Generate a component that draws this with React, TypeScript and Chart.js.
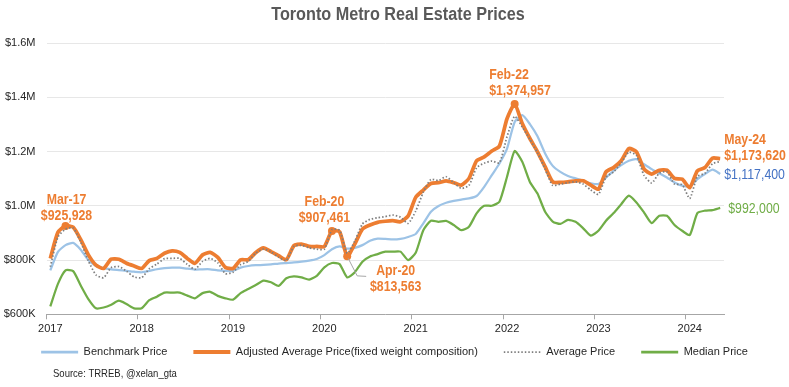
import React, { useEffect, useRef } from 'react';
import { Chart, registerables } from 'chart.js';

Chart.register(...registerables);

const YEARS = ['2017', '2018', '2019', '2020', '2021', '2022', '2023', '2024'];
const MONTHS = ['Jan', 'Feb', 'Mar', 'Apr', 'May', 'Jun', 'Jul', 'Aug', 'Sep', 'Oct', 'Nov', 'Dec'];
const MONTHS_IN_LAST_YEAR = 5;

const categories: string[] = [];
YEARS.forEach((yr, yi) => {
  const n = yi === YEARS.length - 1 ? MONTHS_IN_LAST_YEAR : 12;
  for (let m = 0; m < n; m++) categories.push(MONTHS[m] + '-' + yr.slice(2));
});

const benchmarkPrice = [
  762000, 830000, 855000, 863000, 838000, 800000, 778000, 770000, 766000, 763000, 760000, 757000,
  755000, 760000, 766000, 770000, 772000, 772000, 768000, 765000, 766000, 766000, 762000, 760000,
  760000, 772000, 778000, 781000, 782000, 784000, 787000, 789000, 791000, 794000, 798000, 804000,
  818000, 840000, 850000, 842000, 845000, 855000, 871000, 879000, 878000, 876000, 878000, 885000,
  896000, 935000, 978000, 999000, 1011000, 1018000, 1023000, 1027000, 1036000, 1070000, 1113000, 1156000,
  1211000, 1309000, 1334000, 1301000, 1256000, 1193000, 1147000, 1125000, 1110000, 1101000, 1092000, 1083000,
  1080000, 1104000, 1129000, 1150000, 1166000, 1172000, 1153000, 1135000, 1120000, 1104000, 1086000, 1074000,
  1071000, 1098000, 1117000, 1133000, 1117400,
];

const adjustedAveragePrice = [
  806000, 902000, 925928, 921000, 875000, 819000, 781000, 769000, 803000, 803000, 788000, 778000,
  769000, 798000, 806000, 825000, 834000, 828000, 806000, 788000, 819000, 828000, 810000, 773000,
  769000, 801000, 801000, 828000, 845000, 831000, 816000, 801000, 853000, 859000, 850000, 850000,
  850000, 907461, 904000, 813563, 859000, 914000, 929000, 939000, 943000, 945000, 941000, 962000,
  1031000, 1058000, 1082000, 1085000, 1092000, 1085000, 1076000, 1101000, 1166000, 1180000, 1202000, 1220000,
  1321000, 1374957, 1303000, 1248000, 1199000, 1144000, 1088000, 1086000, 1088000, 1092000, 1092000, 1076000,
  1061000, 1125000, 1141000, 1166000, 1211000, 1199000, 1135000, 1117000, 1131000, 1131000, 1101000, 1098000,
  1067000, 1129000, 1141000, 1176000, 1173620,
];

const averagePrice = [
  775000, 885000, 914000, 918000, 866000, 797000, 745000, 735000, 772000, 776000, 759000, 738000,
  735000, 768000, 785000, 805000, 806000, 806000, 784000, 766000, 795000, 806000, 790000, 750000,
  755000, 783000, 795000, 826000, 840000, 830000, 810000, 798000, 850000, 854000, 845000, 840000,
  840000, 912000, 910000, 825000, 870000, 933000, 950000, 956000, 960000, 966000, 958000, 935000,
  980000, 1050000, 1097000, 1093000, 1107000, 1085000, 1064000, 1075000, 1140000, 1157000, 1165000, 1158000,
  1255000, 1330000, 1290000, 1245000, 1195000, 1135000, 1075000, 1080000, 1085000, 1088000, 1080000, 1058000,
  1042000, 1105000, 1125000, 1158000, 1198000, 1185000, 1112000, 1084000, 1120000, 1125000, 1080000, 1078000,
  1027000, 1108000, 1120000, 1155000, 1163000,
];

const medianPrice = [
  629000, 712000, 762000, 759000, 706000, 656000, 622000, 625000, 635000, 650000, 638000, 622000,
  622000, 652000, 665000, 680000, 680000, 680000, 669000, 659000, 678000, 683000, 668000, 659000,
  654000, 678000, 693000, 708000, 724000, 718000, 705000, 733000, 740000, 736000, 728000, 742000,
  773000, 789000, 785000, 736000, 755000, 794000, 813000, 822000, 831000, 831000, 831000, 800000,
  827000, 910000, 945000, 941000, 944000, 929000, 910000, 923000, 972000, 1000000, 1000000, 1015000,
  1107000, 1202000, 1162000, 1088000, 1045000, 978000, 942000, 933000, 948000, 941000, 917000, 890000,
  908000, 945000, 973000, 1006000, 1037000, 1012000, 975000, 936000, 963000, 963000, 929000, 908000,
  892000, 973000, 982000, 984000, 992000,
];

const Y_TICKS = [600000, 800000, 1000000, 1200000, 1400000, 1600000];
const MARKED_POINTS = [2, 37, 39, 61];

const ORANGE = '#ED7D31';
const LIGHT_BLUE = '#9DC3E6';
const BLUE_TEXT = '#4472C4';
const GREEN = '#70AD47';
const DOT_GRAY = '#7F7F7F';
const FONT = "'Liberation Sans', Arial, sans-serif";
const TEXT_SQUEEZE = 0.88;
const LEGEND_LIFT = 15.8;
const LEGEND_LINE_WIDTHS = [2.75, 4, 1.75, 2.75];

type Note = {
  ds: number; i: number; text: string[]; color: string; bold: boolean;
  align: CanvasTextAlign; dx: number; dy: number[]; leader?: boolean;
};

const NOTES: Note[] = [
  { ds: 1, i: 2, text: ['Mar-17', '$925,928'], color: ORANGE, bold: true, align: 'center', dx: 1, dy: [-26, -10] },
  { ds: 1, i: 37, text: ['Feb-20', '$907,461'], color: ORANGE, bold: true, align: 'center', dx: -7.5, dy: [-29, -12.5] },
  { ds: 1, i: 39, text: ['Apr-20', '$813,563'], color: ORANGE, bold: true, align: 'center', dx: 48.5, dy: [14.3, 30.3], leader: true },
  { ds: 1, i: 61, text: ['Feb-22', '$1,374,957'], color: ORANGE, bold: true, align: 'left', dx: -25.5, dy: [-29.3, -12.6] },
  { ds: 1, i: 88, text: ['May-24', '$1,173,620'], color: ORANGE, bold: true, align: 'left', dx: 4, dy: [-19, -3] },
  { ds: 0, i: 88, text: ['$1,117,400'], color: BLUE_TEXT, bold: false, align: 'left', dx: 4, dy: [1] },
  { ds: 3, i: 88, text: ['$992,000'], color: GREEN, bold: false, align: 'left', dx: 8, dy: [1] },
];

function squeezedText(ctx: CanvasRenderingContext2D, text: string, x: number, y: number, align: CanvasTextAlign, sx: number) {
  ctx.save();
  ctx.translate(x, y);
  ctx.scale(sx, 1);
  ctx.textAlign = align;
  ctx.textBaseline = 'middle';
  ctx.fillText(text, 0, 0);
  ctx.restore();
}

const decorPlugin = {
  id: 'decor',
  afterLayout(chart: any) {
    const lg = chart.legend;
    if (lg) {
      lg.top -= LEGEND_LIFT;
      lg.bottom -= LEGEND_LIFT;
    }
  },
  afterDraw(chart: any) {
    const { ctx, scales } = chart;
    const xs = scales.x;
    const ys = scales.y;
    ctx.save();
    ctx.fillStyle = '#595959';
    ctx.font = `bold 18px ${FONT}`;
    squeezedText(ctx, 'Toronto Metro Real Estate Prices', 398, 15, 'center', 0.9);
    ctx.fillStyle = '#262626';
    ctx.font = `11px ${FONT}`;
    squeezedText(ctx, 'Source: TRREB, @xelan_gta', 53, 374, 'left', 0.865);
    NOTES.forEach((n) => {
      const data = chart.data.datasets[n.ds].data as number[];
      const px = xs.getPixelForValue(n.i);
      const py = ys.getPixelForValue(data[n.i]);
      if (n.leader) {
        ctx.strokeStyle = '#A6A6A6';
        ctx.lineWidth = 1;
        ctx.beginPath();
        ctx.moveTo(px + 1, py + 2);
        ctx.lineTo(px + 10, py + 19.5);
        ctx.lineTo(px + 19, py + 20);
        ctx.stroke();
      }
      ctx.fillStyle = n.color;
      ctx.font = `${n.bold ? 'bold ' : ''}14px ${FONT}`;
      n.text.forEach((t, k) => squeezedText(ctx, t, px + n.dx, py + n.dy[k], n.align, TEXT_SQUEEZE));
    });
    ctx.restore();
  },
};

export default function App() {
  const ref = useRef<HTMLCanvasElement | null>(null);

  useEffect(() => {
    document.body.style.margin = '0';
    const canvas = ref.current;
    if (!canvas) return;
    const chart = new Chart(canvas, {
      type: 'line',
      data: {
        labels: categories,
        datasets: [
          {
            label: 'Benchmark Price',
            data: benchmarkPrice,
            borderColor: LIGHT_BLUE,
            backgroundColor: LIGHT_BLUE,
            borderWidth: 2.25,
            pointRadius: 0,
            tension: 0.2,
            order: 4,
          },
          {
            label: 'Adjusted Average Price(fixed weight composition)',
            data: adjustedAveragePrice,
            borderColor: ORANGE,
            backgroundColor: ORANGE,
            borderWidth: 3.75,
            pointRadius: (c: any) => (MARKED_POINTS.includes(c.dataIndex) ? 4 : 0),
            pointBackgroundColor: ORANGE,
            pointBorderWidth: 0,
            tension: 0.2,
            order: 3,
          },
          {
            label: 'Average Price',
            data: averagePrice,
            borderColor: DOT_GRAY,
            backgroundColor: DOT_GRAY,
            borderWidth: 1.75,
            borderDash: [1.5, 2],
            pointRadius: 0,
            tension: 0.2,
            order: 2,
          },
          {
            label: 'Median Price',
            data: medianPrice,
            borderColor: GREEN,
            backgroundColor: GREEN,
            borderWidth: 2.25,
            pointRadius: 0,
            tension: 0.2,
            order: 1,
          },
        ],
      },
      options: {
        responsive: false,
        animation: false,
        events: [],
        devicePixelRatio: 1,
        layout: { padding: { top: 43, left: 0, right: 0, bottom: 3.7 } },
        plugins: {
          title: { display: false },
          tooltip: { enabled: false },
          legend: {
            position: 'bottom',
            labels: {
              usePointStyle: true,
              pointStyle: 'line',
              pointStyleWidth: 37,
              padding: 26,
              color: '#262626',
              font: { family: FONT, size: 11 },
              generateLabels: (chart: any) =>
                chart.data.datasets.map((ds: any, i: number) => ({
                  text: ds.label,
                  fillStyle: ds.borderColor,
                  strokeStyle: ds.borderColor,
                  lineWidth: LEGEND_LINE_WIDTHS[i],
                  lineDash: ds.borderDash || [],
                  lineCap: 'butt',
                  pointStyle: 'line',
                  fontColor: '#262626',
                  hidden: false,
                  datasetIndex: i,
                })),
            },
          },
        },
        scales: {
          x: {
            type: 'category',
            offset: true,
            grid: {
              offset: true,
              drawOnChartArea: false,
              drawTicks: true,
              tickLength: 5,
              color: (c: any) => (c.index % 12 === 0 ? '#A6A6A6' : 'rgba(0,0,0,0)'),
            },
            border: { display: true, color: '#A6A6A6', width: 1 },
            ticks: {
              autoSkip: false,
              maxRotation: 0,
              minRotation: 0,
              padding: 3,
              color: '#262626',
              font: { family: FONT, size: 11 },
              callback: (_v: any, i: number) => (i % 12 === 0 ? YEARS[i / 12] : ''),
            },
            afterFit: (s: any) => { s.height = 22; },
          },
          y: {
            min: Y_TICKS[0],
            max: Y_TICKS[Y_TICKS.length - 1],
            afterBuildTicks: (s: any) => { s.ticks = Y_TICKS.map((v) => ({ value: v })); },
            grid: { color: '#E7E7E7', drawTicks: false, lineWidth: 1 },
            border: { display: false },
            ticks: {
              padding: 11,
              color: '#262626',
              font: { family: FONT, size: 11 },
              callback: (v: any) => (v >= 1000000 ? '$' + (v / 1000000).toFixed(1) + 'M' : '$' + v / 1000 + 'K'),
            },
            afterFit: (s: any) => { s.width = 46.5; },
          },
          yRight: {
            type: 'linear',
            position: 'right',
            display: true,
            grid: { display: false, drawTicks: false },
            border: { display: false },
            ticks: { display: false },
            afterFit: (s: any) => { s.width = 65; },
          },
        },
      },
      plugins: [decorPlugin],
    } as any);
    return () => chart.destroy();
  }, []);

  return (
    <div style={{ position: 'absolute', left: 0, top: 0, width: 789, height: 387, background: '#fff' }}>
      <canvas ref={ref} width={789} height={387} />
    </div>
  );
}
